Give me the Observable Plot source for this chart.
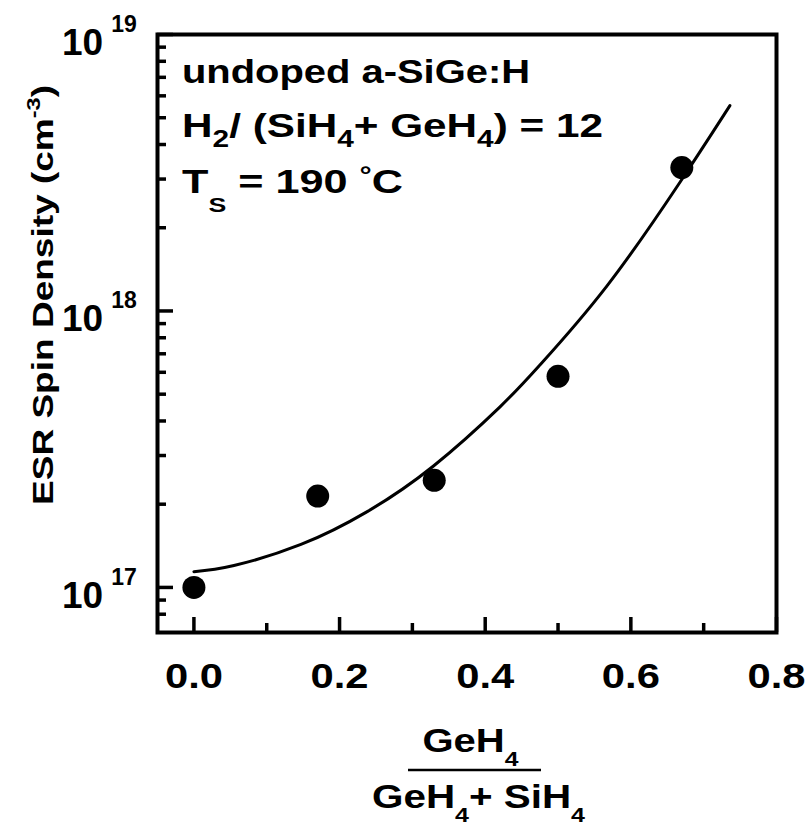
<!DOCTYPE html>
<html>
<head>
<meta charset="utf-8">
<script src="https://cdn.jsdelivr.net/npm/d3@7"></script>
<script src="https://cdn.jsdelivr.net/npm/@observablehq/plot@0.6"></script>
<style>
  body { margin: 0; background: #fff; }
  #chart svg { display: block; }
</style>
</head>
<body>
<div id="chart"></div>
<script>
// Measured ESR spin densities vs. germane fraction
const gasRatio = [0.0, 0.17, 0.33, 0.50, 0.67];
const spinDensity = [1.0e17, 2.14e17, 2.44e17, 5.8e17, 3.3e18];

// Fitted trend line
const fitRatio = [0.0, 0.055, 0.147, 0.238, 0.329, 0.42, 0.475, 0.567, 0.667, 0.736];
const fitDensity = [1.14e17, 1.20e17, 1.43e17, 1.88e17, 2.75e17, 4.49e17, 6.37e17, 1.23e18, 2.91e18, 5.53e18];

// Axis ticks
const xMajorTicks = [0, 0.2, 0.4, 0.6, 0.8];
const xMinorTicks = [0.1, 0.3, 0.5, 0.7];
const yDecades = [1e17, 1e18, 1e19];
const yDecadeExponents = ["17", "18", "19"];
const yMinorTicks = [8e16, 9e16,
  2e17, 3e17, 4e17, 5e17, 6e17, 7e17, 8e17, 9e17,
  2e18, 3e18, 4e18, 5e18, 6e18, 7e18, 8e18, 9e18];

const points = gasRatio.map((x, i) => ({x, y: spinDensity[i]}));
const fit = fitRatio.map((x, i) => ({x, y: fitDensity[i]}));

const FONT = "'Liberation Sans', Arial, Helvetica, sans-serif";

const plot = Plot.plot({
  width: 806,
  height: 830,
  marginLeft: 157,
  marginRight: 30,
  marginTop: 34,
  marginBottom: 198,
  style: {fontFamily: FONT, fontWeight: "bold", background: "#fff", color: "#000", overflow: "visible"},
  x: {domain: [-0.05, 0.8]},
  y: {type: "log", domain: [6.87e16, 1e19]},
  marks: [
    // inward ticks
    Plot.axisX({ticks: xMajorTicks, tickSize: -15, strokeWidth: 3.5, fill: "none", label: null}),
    Plot.axisX({ticks: xMinorTicks, tickSize: -9, strokeWidth: 3.5, fill: "none", label: null}),
    Plot.axisY({ticks: yDecades, tickSize: -16, strokeWidth: 3.5, fill: "none", label: null}),
    Plot.axisY({ticks: yMinorTicks, tickSize: -9, strokeWidth: 3.5, fill: "none", label: null}),
    // x tick labels
    Plot.axisX({ticks: xMajorTicks, tickSize: 0, tickPadding: 31, fontSize: 35,
      tickFormat: d3.format(".1f"), label: null}),
    Plot.line(fit, {x: "x", y: "y", curve: "natural", stroke: "#000", strokeWidth: 3}),
    Plot.dot(points, {x: "x", y: "y", r: 11.5, fill: "#000"}),
    Plot.frame({stroke: "#000", strokeWidth: 4})
  ]
});

document.getElementById("chart").append(plot);

const svg = d3.select(plot);
const yScale = plot.scale("y");
const left = 157, right = 806 - 30;
const cx = (left + right) / 2;

// the lettering is drawn in a wide bold face: stretch text to its set width
function stretch(sel, length) {
  return sel.attr("textLength", length).attr("lengthAdjust", "spacingAndGlyphs");
}

stretch(svg.selectAll('g[aria-label="x-axis tick label"] text'), 58);

function group() {
  return svg.append("g")
    .attr("font-family", FONT).attr("font-weight", "bold")
    .attr("fill", "#000").attr("text-anchor", "start");
}

// y tick labels: 10 with exponent
const yLabels = group();
yDecades.forEach((v, i) => {
  const y = yScale.apply(v);
  const t = yLabels.append("text").attr("x", 62).attr("y", y + 21).attr("font-size", 37);
  t.append("tspan").text("10");
  t.append("tspan").attr("dx", 8).attr("dy", -23).attr("font-size", 23).text(yDecadeExponents[i]);
});

// annotation block
const notes = group().attr("font-size", 34);
stretch(notes.append("text").attr("x", left + 25).attr("y", 83).text("undoped a-SiGe:H"), 348);
const l2 = notes.append("text").attr("x", left + 25).attr("y", 137);
l2.append("tspan").text("H");
l2.append("tspan").attr("dy", 10).attr("font-size", 24).text("2");
l2.append("tspan").attr("dy", -10).text("/ (SiH");
l2.append("tspan").attr("dy", 10).attr("font-size", 24).text("4");
l2.append("tspan").attr("dy", -10).text("+ GeH");
l2.append("tspan").attr("dy", 10).attr("font-size", 24).text("4");
l2.append("tspan").attr("dy", -10).text(") = 12");
stretch(l2, 421);
const l3 = notes.append("text").attr("x", left + 25).attr("y", 193);
l3.append("tspan").text("T");
l3.append("tspan").attr("dy", 19).attr("font-size", 21).text("S");
l3.append("tspan").attr("dy", -19).text(" = 190 ");
l3.append("tspan").attr("dy", -10).attr("font-size", 24).text("°");
l3.append("tspan").attr("dy", 10).text("C");
stretch(l3, 221);

// y axis title
const yt = group()
  .attr("font-size", 30)
  .append("text")
  .attr("transform", `translate(53, 295) rotate(-90)`)
  .attr("text-anchor", "middle");
yt.append("tspan").text("ESR Spin Density (cm");
yt.append("tspan").attr("dy", -13).attr("font-size", 19).text("-3");
yt.append("tspan").attr("dy", 13).text(")");
stretch(yt, 420);

// x axis title as a fraction
const xt = group().attr("font-size", 34);
const num = xt.append("text").attr("x", cx + 4).attr("y", 752).attr("text-anchor", "middle");
num.append("tspan").text("GeH");
num.append("tspan").attr("dy", 14).attr("font-size", 21).text("4");
stretch(num, 96);
xt.append("line").attr("x1", 408).attr("x2", 541).attr("y1", 770).attr("y2", 770)
  .attr("stroke", "#000").attr("stroke-width", 2.5);
const den = xt.append("text").attr("x", cx + 12).attr("y", 808).attr("text-anchor", "middle");
den.append("tspan").text("GeH");
den.append("tspan").attr("dy", 14).attr("font-size", 21).text("4");
den.append("tspan").attr("dy", -14).text("+ SiH");
den.append("tspan").attr("dy", 14).attr("font-size", 21).text("4");
stretch(den, 213);
</script>
</body>
</html>
